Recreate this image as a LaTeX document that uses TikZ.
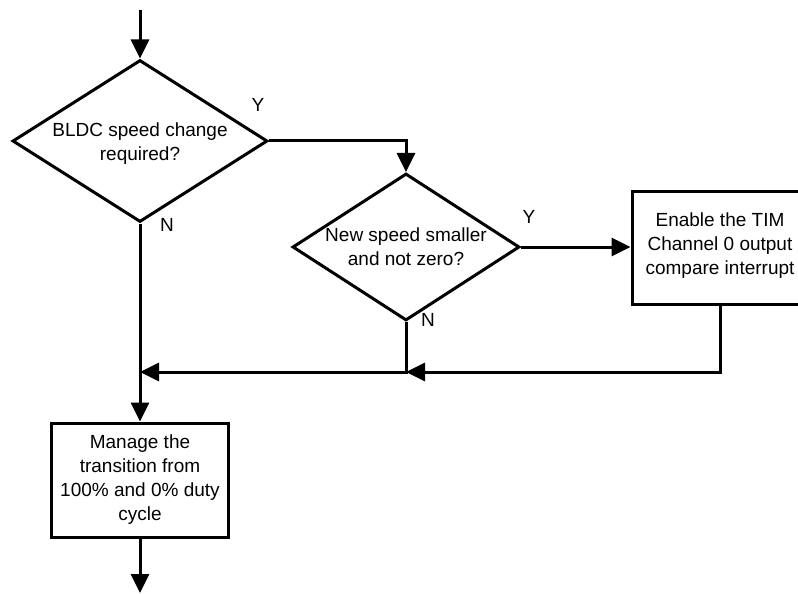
\documentclass[tikz,border=0pt]{standalone}
\usepackage{fontspec}
\setmainfont{Liberation Sans}
\usetikzlibrary{shapes.geometric,arrows.meta}
\begin{document}
\begin{tikzpicture}[x=1bp,y=-1bp,
  every node/.style={font=\fontsize{19bp}{24bp}\selectfont},
  ln/.style={line width=3bp},
  arr/.style={ln,-{Triangle[length=19bp,width=18bp]}},
  dia/.style={diamond,draw,ln,inner sep=0pt,aspect=1.5},
  procbox/.style={rectangle,draw,ln,inner sep=0pt},
  txt/.style={align=center,inner sep=0pt},
  lbl/.style={inner sep=0pt}]
\useasboundingbox (0,0) rectangle (798,594);
\clip (0,0) rectangle (798,594);
\node[dia,minimum width=255bp,minimum height=162bp] (d1) at (140,141) {};
\node[txt] (d1t) at (140,144) {BLDC speed change\\required?};
\node[dia,minimum width=227bp,minimum height=147bp] (d2) at (406,247) {};
\node[txt] (d2t) at (406,247) {New speed smaller\\and not zero?};
\node[procbox,minimum width=176bp,minimum height=112bp] (b1) at (720,248) {};
\node[txt] (b1t) at (720,246) {Enable the TIM\\Channel 0 output\\compare interrupt};
\node[procbox,minimum width=177bp,minimum height=114bp] (b2) at (140,480) {};
\node[txt] (b2t) at (140,480) {Manage the\\transition from\\100\% and 0\% duty\\cycle};
\node[lbl] (y1) at (258,105) {Y};
\node[lbl] (n1) at (167,225) {N};
\node[lbl] (y2) at (529,217) {Y};
\node[lbl] (n2) at (428,320) {N};
\coordinate (start) at (140,10);
\coordinate (end) at (140,593);
\coordinate (j1) at (406,372);
\coordinate (j2) at (140,372);
\coordinate (c1) at (406,141);
\coordinate (c2) at (720,372);
\draw[arr] (start) -- (d1.north);
\draw[arr] (d1.east) -- (c1) -- (d2.north);
\draw[arr] (d2.east) -- (d2.east -| b1.west);
\draw[arr] (b1.south) -- (c2) -- (j1);
\draw[arr] (d2.south) -- (j1) -- (j2);
\draw[arr] (d1.south) -- (b2.north);
\draw[arr] (b2.south) -- (end);
\end{tikzpicture}
\end{document}
